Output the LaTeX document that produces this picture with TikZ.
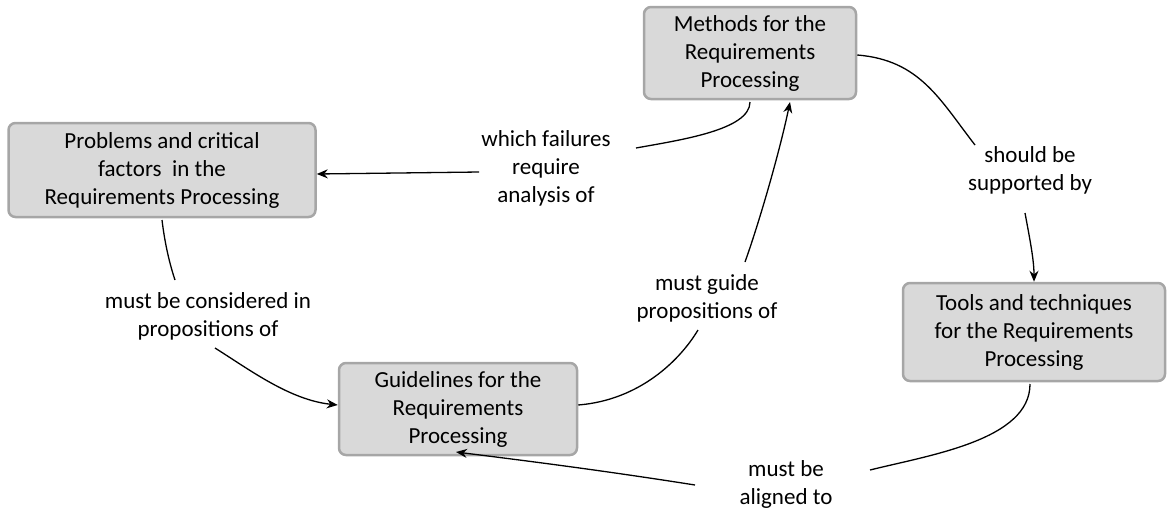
\documentclass[tikz,border=0pt]{standalone}
\usepackage{fontspec}
\setmainfont{Carlito}
\usetikzlibrary{arrows.meta}
\begin{document}
\begin{tikzpicture}[x=1pt,y=-1pt,
  box/.style={draw=black!35,line width=2.5pt,fill=black!15,rounded corners=7pt,align=center,font=\fontsize{23}{28}\selectfont,inner sep=0pt},
  lab/.style={align=center,font=\fontsize{23}{28}\selectfont,inner sep=2pt},
  con/.style={line width=1.3pt},
  arr/.style={line width=1.3pt,-{Stealth[length=11pt,width=9pt]}}]
\useasboundingbox (0,0) rectangle (1174,515);
\node[box,minimum width=212pt,minimum height=92pt] (m) at (750,53) {Methods for the\\Requirements\\Processing};
\node[box,minimum width=307pt,minimum height=94pt] (p) at (162,170) {Problems and critical\\factors\ \ in the\\Requirements Processing};
\node[box,minimum width=262pt,minimum height=98pt] (t) at (1034,332) {Tools and techniques\\for the Requirements\\Processing};
\node[box,minimum width=238pt,minimum height=92pt] (g) at (458,409) {Guidelines for the\\Requirements\\Processing};
\node[lab] (l1) at (546,168) {which failures\\require\\analysis of};
\node[lab] (l2) at (1030,170) {should be\\supported by};
\node[lab] (l3) at (208,316) {must be considered in\\propositions of};
\node[lab] (l4) at (707,298) {must guide\\propositions of};
\node[lab] (l5) at (786,484) {must be\\aligned to};
\coordinate (m1) at (750,102);
\coordinate (m2) at (790,102);
\draw[con] (m1) .. controls (750,130) and (680,140) .. (636,148);
\draw[arr] (l1.west |- 0,172) -- (p.east |- 0,174);
\draw[con] (m.east |- 0,55) .. controls (920,60) and (940,100) .. (975,145);
\draw[arr] (1025,213) .. controls (1030,240) and (1034,260) .. (t.north);
\draw[con] (162,220) .. controls (165,245) and (170,265) .. (175,280);
\draw[arr] (215,348) .. controls (250,370) and (290,400) .. (g.west |- 0,405);
\draw[con] (g.east |- 0,405) .. controls (640,400) and (680,360) .. (698,330);
\draw[arr] (745,262) .. controls (760,220) and (780,150) .. (m2);
\draw[con] (1030,384) .. controls (1030,440) and (930,455) .. (870,470);
\draw[arr] (695,485) .. controls (600,470) and (520,460) .. (456,452);
\end{tikzpicture}
\end{document}
